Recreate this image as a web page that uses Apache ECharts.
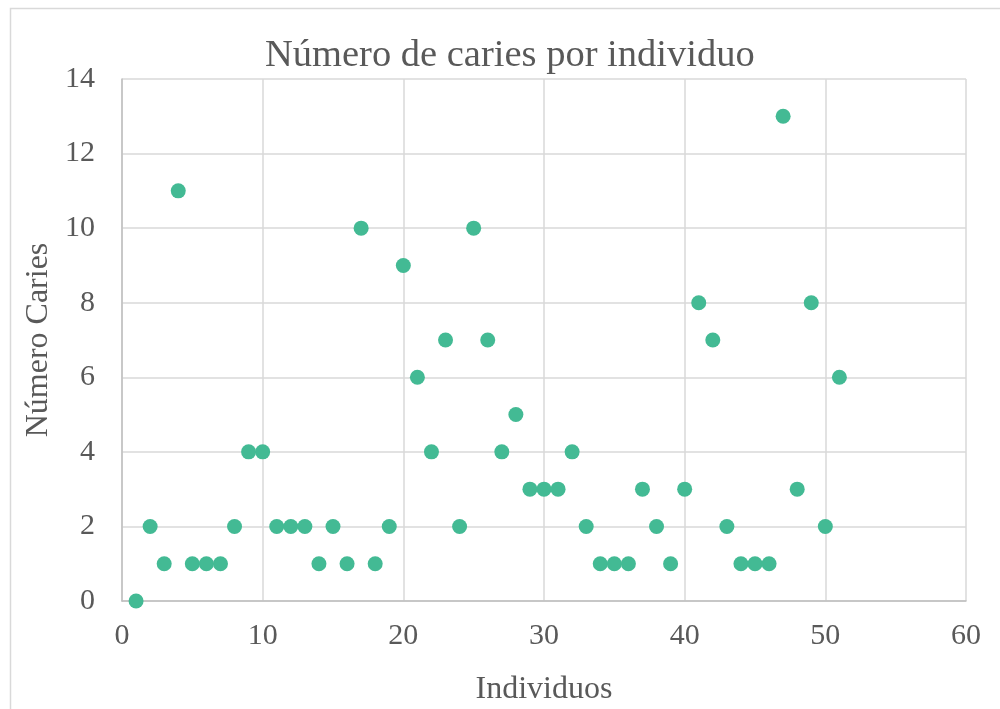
<!DOCTYPE html>
<html>
<head>
<meta charset="utf-8">
<title>Número de caries por individuo</title>
<script src="https://cdn.jsdelivr.net/npm/echarts@6/dist/echarts.min.js"></script>
<style>
  html, body { margin: 0; padding: 0; background: #fff; }
  #chart { width: 1000px; height: 709px; }
</style>
</head>
<body>
<div id="chart"></div>
<script>
// individuos (x) y número de caries (y)
var individuos = [1, 2, 3, 4, 5, 6, 7, 8, 9, 10, 11, 12, 13, 14, 15, 16, 17, 18, 19, 20,
  21, 22, 23, 24, 25, 26, 27, 28, 29, 30, 31, 32, 33, 34, 35, 36, 37, 38, 39, 40,
  41, 42, 43, 44, 45, 46, 47, 48, 49, 50, 51]
var caries = [0, 2, 1, 11, 1, 1, 1, 2, 4, 4, 2, 2, 2, 1, 2, 1, 10, 1, 2, 9,
  6, 4, 7, 2, 10, 7, 4, 5, 3, 3, 3, 4, 2, 1, 1, 1, 3, 2, 1, 3,
  8, 7, 2, 1, 1, 1, 13, 3, 8, 2, 6]

var points = individuos.map(function (x, i) { return [x, caries[i]] })

var font = '"Liberation Serif", "Times New Roman", serif'
var chart = echarts.init(document.getElementById('chart'))
chart.setOption({
  animation: false,
  textStyle: { fontFamily: font },
  title: {
    text: 'Número de caries por individuo',
    left: 260,
    top: 31,
    textStyle: { fontFamily: font, fontSize: 38.5, fontWeight: 'normal', color: '#595959' }
  },
  graphic: [{
    type: 'rect',
    shape: { x: 10.5, y: 8.5, width: 1100, height: 800 },
    style: { fill: 'none', stroke: '#d9d9d9', lineWidth: 1.5 },
    silent: true
  }],
  grid: { left: 122, right: 34, top: 79, bottom: 108, outerBoundsMode: 'none' },
  xAxis: {
    type: 'value',
    min: 0,
    max: 60,
    interval: 10,
    name: 'Individuos',
    nameLocation: 'middle',
    nameGap: 73,
    nameTextStyle: { fontFamily: font, fontSize: 32, color: '#595959' },
    axisLine: { show: true, lineStyle: { color: '#bfbfbf', width: 1.5 } },
    axisTick: { show: false },
    axisLabel: { fontFamily: font, fontSize: 30, color: '#595959', margin: 20 },
    splitLine: { show: true, lineStyle: { color: '#d9d9d9', width: 1.5 } }
  },
  yAxis: {
    type: 'value',
    min: 0,
    max: 14,
    interval: 2,
    name: 'Número Caries',
    nameLocation: 'middle',
    nameGap: 67,
    nameTextStyle: { fontFamily: font, fontSize: 32, color: '#595959' },
    axisLine: { show: true, lineStyle: { color: '#bfbfbf', width: 1.5 } },
    axisTick: { show: false },
    axisLabel: { fontFamily: font, fontSize: 30, color: '#595959', margin: 27 },
    splitLine: { show: true, lineStyle: { color: '#d9d9d9', width: 1.5 } }
  },
  series: [{
    type: 'scatter',
    data: points,
    symbolSize: 15,
    itemStyle: { color: '#43ba94', opacity: 1 }
  }]
})
</script>
</body>
</html>
